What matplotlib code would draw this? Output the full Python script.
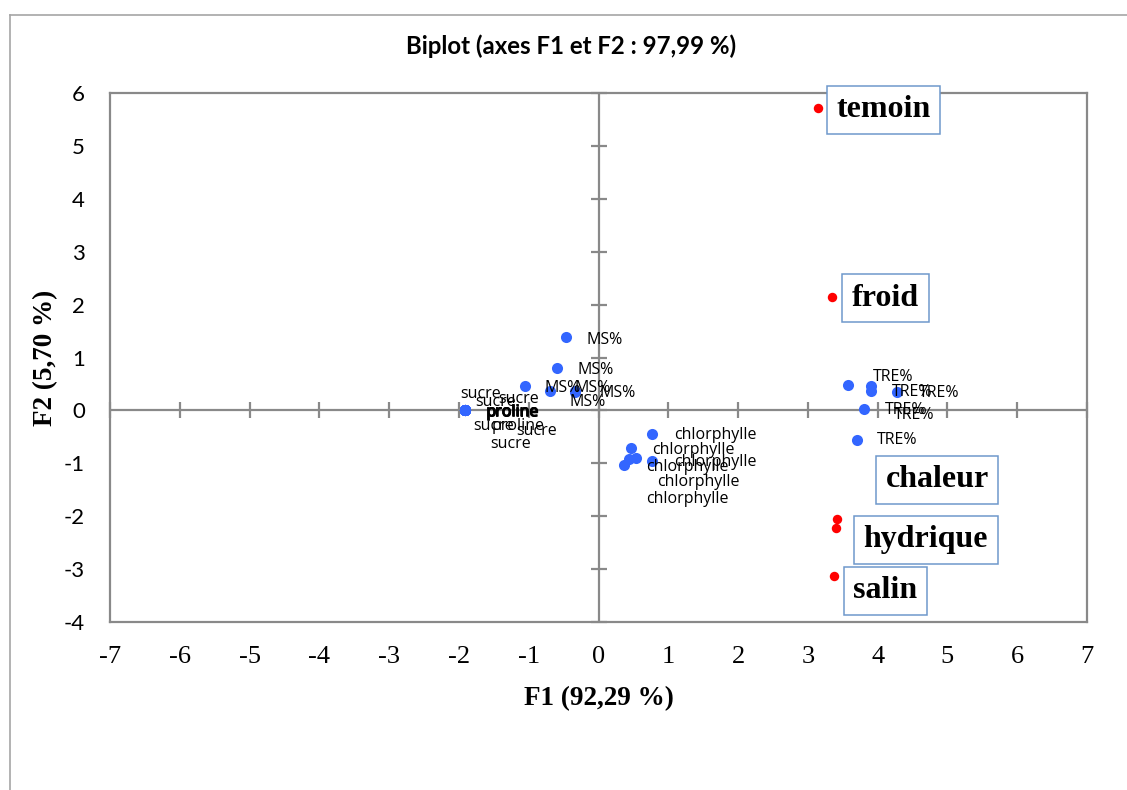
import matplotlib
matplotlib.use("Agg")
import matplotlib.pyplot as plt
from matplotlib.lines import Line2D

# Observations (treatments) on F1/F2
treatments = ["temoin", "froid", "chaleur", "hydrique", "salin"]
obs_f1 = [3.14, 3.34, 3.42, 3.40, 3.38]
obs_f2 = [5.72, 2.14, -2.05, -2.22, -3.13]

# Variables (six replicates each)
sucre_f1 = [-1.92, -1.92, -1.92, -1.92, -1.92, -1.92]
sucre_f2 = [0.00, 0.00, 0.00, 0.00, 0.00, 0.00]
proline_f1 = [-1.92, -1.92, -1.92, -1.92, -1.92, -1.92]
proline_f2 = [0.00, 0.00, 0.00, 0.00, 0.00, 0.00]
ms_f1 = [-0.46, -0.59, -1.06, -0.70, -0.34, -0.34]
ms_f2 = [1.39, 0.80, 0.46, 0.37, 0.37, 0.35]
chl_f1 = [0.77, 0.47, 0.77, 0.37, 0.54, 0.43]
chl_f2 = [-0.45, -0.71, -0.96, -1.03, -0.90, -0.92]
tre_f1 = [3.57, 3.91, 3.91, 4.28, 3.81, 3.70]
tre_f2 = [0.48, 0.46, 0.37, 0.35, 0.03, -0.56]

x_ticks = list(range(-7, 8))
y_ticks = list(range(-4, 7))

# label offsets in pixels (right, up)
sucre_off = [(-4, 16), (11, 8), (34, 11), (9, -16), (52, -21), (26, -34)]
proline_off = [(21, -2), (22, -2), (21, -3), (22, -3), (21, -2), (27, -16)]
ms_off = [(20, -3), (20, -2), (20, -2), (25, 3), (25, -2), (-5, -10)]
chl_off = [(22, -1), (21, -2), (22, -1), (22, -2), (21, -24), (18, -40)]
tre_off = [(25, 8), (23, -29), (21, -1), (22, -1), (20, -1), (20, 0)]
obs_off = [(66, -2), (54, -1), (100, 39), (90, -12), (51, -15)]

W, H = 1127, 790
fig = plt.figure(figsize=(W / 100, H / 100), dpi=100)
ax = fig.add_axes([110 / W, 1 - 622 / H, (1087 - 110) / W, (622 - 93) / H])

grey = "#898989"
blue = "#3366FF"
red = "#FF0000"

ax.set_xlim(-7, 7)
ax.set_ylim(-4, 6)
for s in ax.spines.values():
    s.set_color(grey)
    s.set_linewidth(1.6)

# central axes with crossing tick marks
ax.axhline(0, color=grey, lw=1.6, zorder=1)
ax.axvline(0, color=grey, lw=1.6, zorder=1)
ax.plot(x_ticks, [0] * len(x_ticks), ls="none", marker="|", ms=11,
        mew=1.6, color=grey, zorder=1, clip_on=False)
ax.plot([0] * len(y_ticks), y_ticks, ls="none", marker="_", ms=11,
        mew=1.6, color=grey, zorder=1, clip_on=False)

ax.set_xticks(x_ticks)
ax.set_yticks(y_ticks)
ax.set_xticklabels([str(v) for v in x_ticks], fontfamily="Liberation Serif",
                   fontsize=19)
ax.set_yticklabels([str(v) for v in y_ticks], fontfamily="Lato", fontsize=16)
ax.tick_params(axis="x", length=0, pad=17)
ax.tick_params(axis="y", length=0, pad=18)

small = dict(fontfamily="Open Sans", fontsize=11.5, color="black",
             ha="left", va="center", textcoords="offset pixels", zorder=4)

groups = [
    ("sucre", sucre_f1, sucre_f2, sucre_off),
    ("proline", proline_f1, proline_f2, proline_off),
    ("MS%", ms_f1, ms_f2, ms_off),
    ("chlorphylle", chl_f1, chl_f2, chl_off),
    ("TRE%", tre_f1, tre_f2, tre_off),
]
for name, xs, ys, offs in groups:
    ax.plot(xs, ys, ls="none", marker="o", ms=8, color=blue, mew=0, zorder=3)
    for x, y, off in zip(xs, ys, offs):
        ax.annotate(name, (x, y), xytext=off, **small)

ax.plot(obs_f1, obs_f2, ls="none", marker="o", ms=6.8, color=red, mew=0,
        zorder=3)
for name, x, y, off in zip(treatments, obs_f1, obs_f2, obs_off):
    ax.annotate(name, (x, y), xytext=off, textcoords="offset pixels",
                ha="center", va="center", fontfamily="Liberation Serif",
                fontweight="bold", fontsize=23, zorder=5,
                bbox=dict(boxstyle="square,pad=0.3", fc="white",
                          ec="#6F98CC", lw=1.1))

ax.set_xlabel("F1 (92,29 %)", fontfamily="Liberation Serif",
              fontweight="bold", fontsize=19.5, labelpad=13)
ax.set_ylabel("F2 (5,70 %)", fontfamily="Liberation Serif",
              fontweight="bold", fontsize=19.5, labelpad=4)

fig.text(571 / W, 1 - 46 / H, "Biplot (axes F1 et F2 : 97,99 %)",
         fontfamily="Lato", fontweight="bold", fontsize=17.3,
         ha="center", va="center")

# chart area frame
frame_c = "#A6A6A6"
fig.add_artist(Line2D([10 / W, 10 / W], [0, 1 - 15 / H], color=frame_c,
                      lw=1.2, transform=fig.transFigure))
fig.add_artist(Line2D([10 / W, 1], [1 - 15 / H, 1 - 15 / H], color=frame_c,
                      lw=1.2, transform=fig.transFigure))

fig.savefig("out.png", dpi=100)
